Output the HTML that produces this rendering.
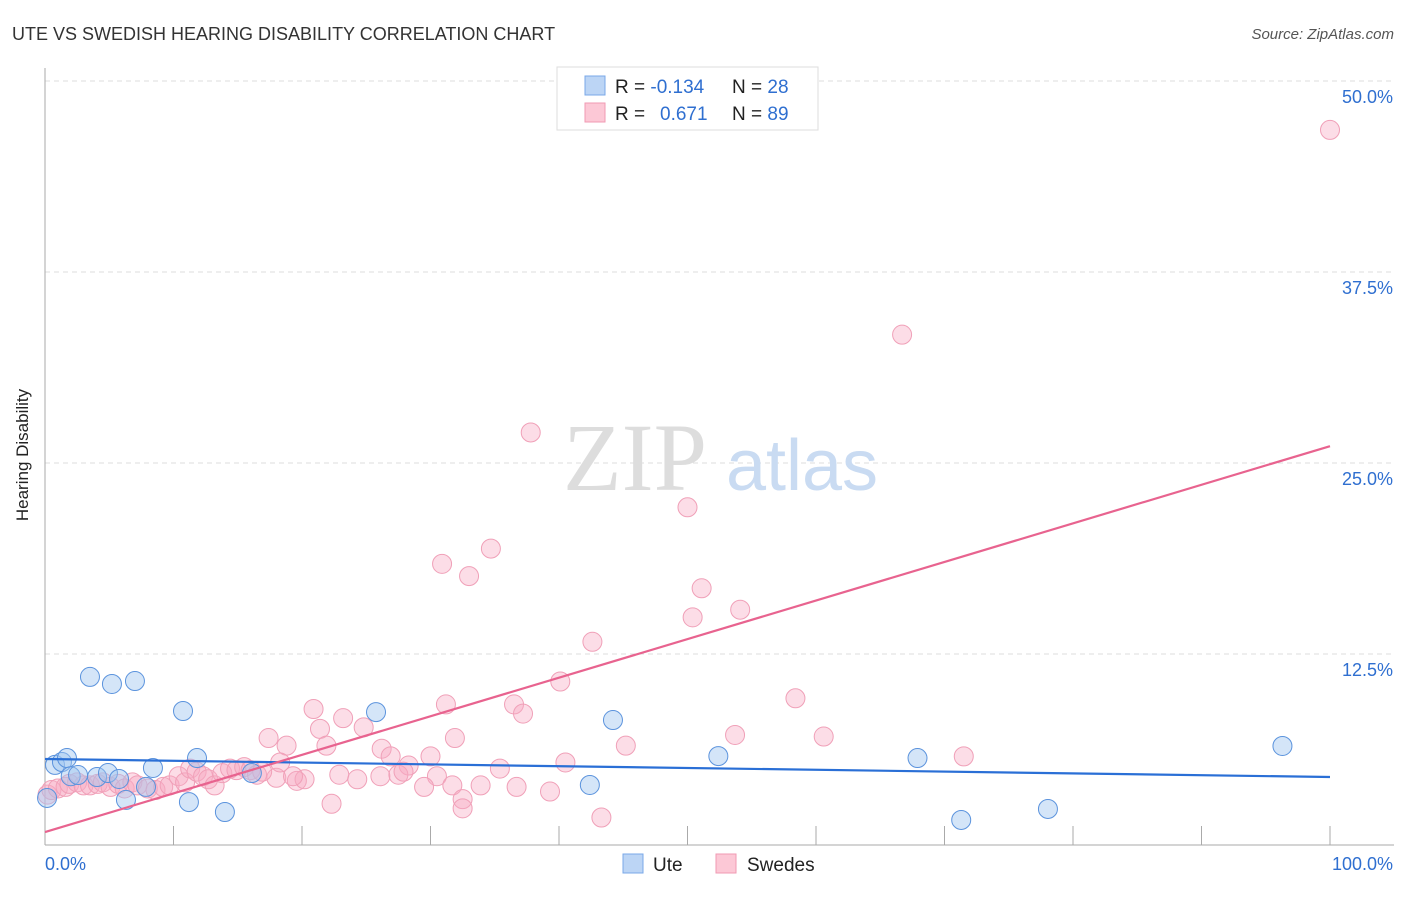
<!DOCTYPE html>
<html><head><meta charset="utf-8"><style>
body{margin:0;background:#fff;font-family:"Liberation Sans",sans-serif}
</style></head><body>
<svg width="1406" height="892" xmlns="http://www.w3.org/2000/svg" font-family="Liberation Sans, sans-serif">
<text x="12" y="40" font-size="18" fill="#333">UTE VS SWEDISH HEARING DISABILITY CORRELATION CHART</text>
<text x="1394" y="39" font-size="15" fill="#555" font-style="italic" text-anchor="end">Source: ZipAtlas.com</text>
<g id="grid"></g>
<g>
<text x="635" y="490" font-size="96" font-family="Liberation Serif, serif" fill="#ddd" text-anchor="middle">ZIP</text>
<text x="802" y="490" font-size="72" fill="#c9dbf2" text-anchor="middle">atlas</text>
</g>
<g id="marks"></g>
<text x="28" y="455" font-size="17" fill="#222" transform="rotate(-90 28 455)" text-anchor="middle">Hearing Disability</text>
<g>
<rect x="557" y="67" width="261" height="63" fill="#fff" stroke="#ddd"/>
<rect x="585" y="76" width="20" height="19" fill="#bcd5f5" stroke="#7aa8e8"/>
<rect x="585" y="103" width="20" height="19" fill="#fcc8d6" stroke="#f09ab3"/>
<text x="615" y="93" font-size="19" fill="#222">R = <tspan fill="#2f6fd0">-0.134</tspan><tspan x="732">N = </tspan><tspan fill="#2f6fd0">28</tspan></text>
<text x="615" y="120" font-size="19" fill="#222">R = <tspan x="660" fill="#2f6fd0">0.671</tspan><tspan x="732">N = </tspan><tspan fill="#2f6fd0">89</tspan></text>
</g>
<g>
<rect x="623" y="854" width="20" height="19" fill="#bcd5f5" stroke="#7aa8e8"/>
<text x="653" y="871" font-size="19" fill="#222">Ute</text>
<rect x="716" y="854" width="20" height="19" fill="#fcc8d6" stroke="#f09ab3"/>
<text x="747" y="871" font-size="19" fill="#222">Swedes</text>
</g>
</svg>
<script>
const yTicks=[12.5,25,37.5,50];
const yTickLabels=["12.5%","25.0%","37.5%","50.0%"];
const xTicks=[10,20,30,40,50,60,70,80,90,100];
const uteX=[0.16,0.78,1.32,1.71,2.0,2.57,3.5,4.05,4.9,5.21,5.76,6.3,7.0,7.86,8.4,10.74,11.2,11.83,14.0,16.1,25.76,42.4,44.2,52.4,67.9,71.3,78.05,96.3];
const uteY=[3.08,5.24,5.43,5.69,4.5,4.58,11.0,4.45,4.71,10.54,4.32,2.95,10.73,3.8,5.04,8.77,2.81,5.69,2.16,4.71,8.7,3.93,8.18,5.82,5.69,1.64,2.36,6.48];
const sweX=[100,66.7,37.8,50.0,30.9,34.7,33.0,51.1,54.1,50.4,42.6,40.1,58.4,31.2,36.5,37.2,20.9,23.2,21.4,24.8,31.9,17.4,18.8,21.9,45.2,53.7,60.6,71.5,26.2,26.9,30.0,40.5,35.4,28.3,22.9,24.3,26.1,27.5,27.9,30.5,18.0,19.6,20.2,19.3,31.7,33.9,36.7,39.3,29.5,32.5,32.5,22.3,43.3,0.2,0.5,1.0,1.6,1.9,2.5,3.0,3.5,4.1,4.5,5.1,5.7,6.2,6.8,7.2,8.0,8.6,9.2,9.7,10.4,10.9,11.3,11.8,12.3,12.7,13.2,13.8,14.4,14.9,15.5,16.0,16.5,16.9,18.3];
const sweY=[46.8,33.4,27.0,22.1,18.4,19.4,17.6,16.8,15.4,14.9,13.3,10.7,9.6,9.2,9.2,8.6,8.9,8.3,7.6,7.7,7.0,7.0,6.5,6.5,6.5,7.2,7.1,5.8,6.3,5.8,5.8,5.4,5.0,5.2,4.6,4.3,4.5,4.6,4.8,4.5,4.4,4.2,4.3,4.5,3.9,3.9,3.8,3.5,3.8,3.0,2.4,2.7,1.8,3.3,3.6,3.7,3.8,4.0,4.1,3.9,3.9,4.0,4.1,3.8,4.0,3.7,4.1,3.9,3.7,3.6,3.8,3.9,4.5,4.1,5.0,4.8,4.5,4.3,3.9,4.7,5.0,4.9,5.1,4.9,4.6,4.8,5.4];
const uteTrend=[5.63,4.45];
const sweTrend=[0.85,26.1];
const NS="http://www.w3.org/2000/svg";
const sx=v=>45+v*12.85, sy=v=>845-v*15.28;
function mk(t,a,p){const e=document.createElementNS(NS,t);for(const k in a)e.setAttribute(k,a[k]);p.appendChild(e);return e;}
const grid=document.getElementById('grid'), marks=document.getElementById('marks');
yTicks.forEach((t,i)=>{
 const l=mk('line',{x1:45,x2:1394,y1:sy(t),y2:sy(t),stroke:'#ddd','stroke-dasharray':'5,4'},grid);
 
 
 const tx=mk('text',{x:1393,y:sy(t)+22,'font-size':18,fill:'#2f6fd0','text-anchor':'end'},grid);
 tx.textContent=yTickLabels[i];
 
 
});
const ax=mk('line',{x1:45,x2:45,y1:68,y2:845,stroke:'#aaa'},grid);


const bx=mk('line',{x1:45,x2:1394,y1:845,y2:845,stroke:'#aaa'},grid);


xTicks.forEach(t=>{const l=mk('line',{x1:sx(t),x2:sx(t),y1:826,y2:845,stroke:'#aaa'},grid);
 
 });
const x0=mk('text',{x:45,y:870,'font-size':18,fill:'#2f6fd0'},grid);x0.textContent='0.0%';


const x1=mk('text',{x:1393,y:870,'font-size':18,fill:'#2f6fd0','text-anchor':'end'},grid);x1.textContent='100.0%';


sweX.forEach((x,i)=>{const c=mk('circle',{cx:sx(x),cy:sy(sweY[i]),r:9.5,fill:'rgba(248,170,195,0.4)',stroke:'#f0a0b8','stroke-width':1},marks);
 
 });
uteX.forEach((x,i)=>{const c=mk('circle',{cx:sx(x),cy:sy(uteY[i]),r:9.5,fill:'rgba(160,198,240,0.45)',stroke:'#5b93dd','stroke-width':1},marks);
 
 });
const tl1=mk('line',{x1:sx(0),x2:sx(100),y1:sy(uteTrend[0]),y2:sy(uteTrend[1]),stroke:'#2a6fd6','stroke-width':2.2},marks);


const tl2=mk('line',{x1:sx(0),x2:sx(100),y1:sy(sweTrend[0]),y2:sy(sweTrend[1]),stroke:'#e8638f','stroke-width':2.2},marks);


</script>
</body></html>
